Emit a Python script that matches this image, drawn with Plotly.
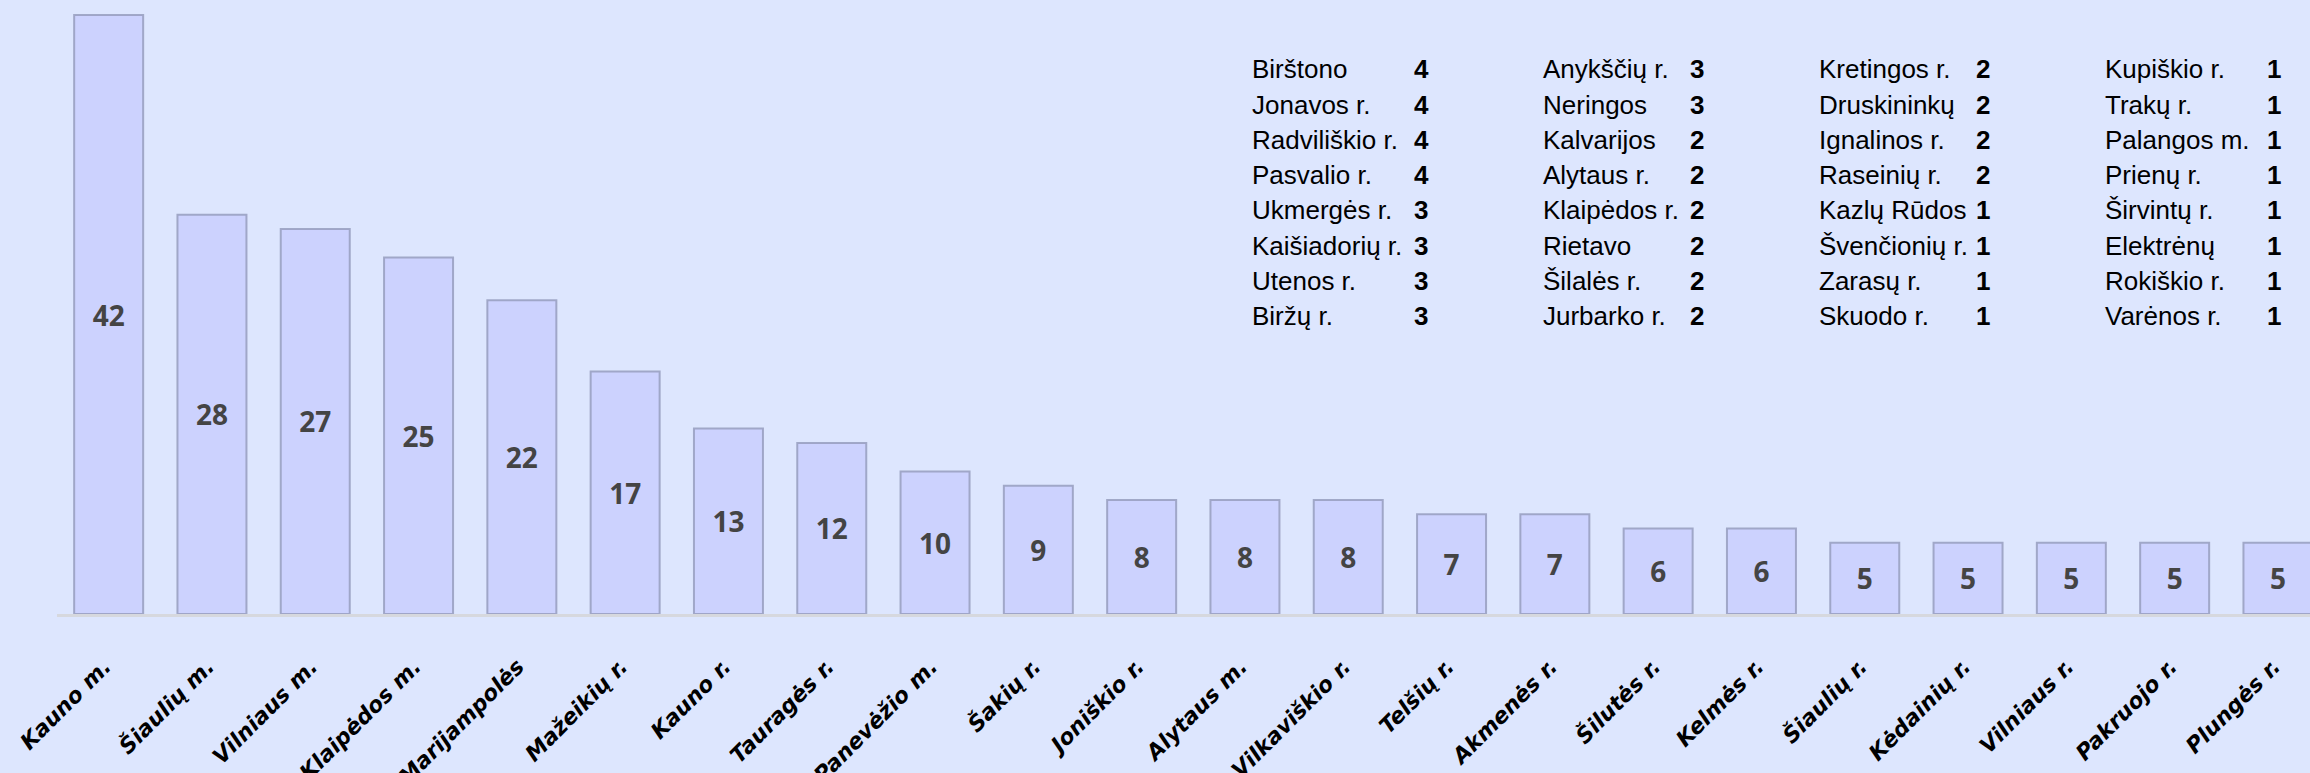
import plotly.graph_objects as go

categories = ["Kauno m.", "Šiaulių m.", "Vilniaus m.", "Klaipėdos m.", "Marijampolės",
              "Mažeikių r.", "Kauno r.", "Tauragės r.", "Panevėžio m.", "Šakių r.",
              "Joniškio r.", "Alytaus m.", "Vilkaviškio r.", "Telšių r.", "Akmenės r.",
              "Šilutės r.", "Kelmės r.", "Šiaulių r.", "Kėdainių r.", "Vilniaus r.",
              "Pakruojo r.", "Plungės r."]
values = [42, 28, 27, 25, 22, 17, 13, 12, 10, 9, 8, 8, 8, 7, 7, 6, 6, 5, 5, 5, 5, 5]

table_col1_names = ["Birštono", "Jonavos r.", "Radviliškio r.", "Pasvalio r.",
                    "Ukmergės r.", "Kaišiadorių r.", "Utenos r.", "Biržų r."]
table_col1_values = [4, 4, 4, 4, 3, 3, 3, 3]
table_col2_names = ["Anykščių r.", "Neringos", "Kalvarijos", "Alytaus r.",
                    "Klaipėdos r.", "Rietavo", "Šilalės r.", "Jurbarko r."]
table_col2_values = [3, 3, 2, 2, 2, 2, 2, 2]
table_col3_names = ["Kretingos r.", "Druskininkų", "Ignalinos r.", "Raseinių r.",
                    "Kazlų Rūdos", "Švenčionių r.", "Zarasų r.", "Skuodo r."]
table_col3_values = [2, 2, 2, 2, 1, 1, 1, 1]
table_col4_names = ["Kupiškio r.", "Trakų r.", "Palangos m.", "Prienų r.",
                    "Širvintų r.", "Elektrėnų", "Rokiškio r.", "Varėnos r."]
table_col4_values = [1, 1, 1, 1, 1, 1, 1, 1]

W, H = 2310, 773
ML, MB = 57, 159
PW, PH = W - ML, H - MB
slot = 103.3
BG = "#DDE6FE"

fig = go.Figure()
fig.add_trace(go.Bar(
    x=list(range(len(categories))), y=values,
    text=[str(v) for v in values],
    textposition="inside", insidetextanchor="middle",
    textfont=dict(family="Open Sans", size=28, color="#444444", weight="bold"),
    marker=dict(color="#CCD2FE", line=dict(color="rgba(150,158,190,0.85)", width=2)),
    hoverinfo="skip",
))

fig.update_layout(
    width=W, height=H,
    margin=dict(l=ML, r=0, t=0, b=MB, pad=0),
    paper_bgcolor=BG, plot_bgcolor=BG,
    bargap=0.332, showlegend=False,
)
fig.update_xaxes(
    range=[-0.5, -0.5 + PW / slot],
    tickmode="array", tickvals=list(range(len(categories))), ticktext=categories,
    tickangle=-45, ticklabelstandoff=28, ticklabelshift=-4,
    tickfont=dict(family="DejaVu Sans", size=22, color="#000000", weight="bold", style="italic"),
    showline=True, linecolor="#D6D8DE", linewidth=3,
    showgrid=False, zeroline=False, ticks="", automargin=False,
)
fig.update_yaxes(range=[0, PH / 14.26], visible=False, showgrid=False, zeroline=False)

cols = [
    (table_col1_names, table_col1_values, 1250, 1412),
    (table_col2_names, table_col2_values, 1541, 1688),
    (table_col3_names, table_col3_values, 1817, 1974),
    (table_col4_names, table_col4_values, 2103, 2265),
]
row0, rowstep = 69.5, 35.2
for names, vals, xn, xv in cols:
    for k, (n, v) in enumerate(zip(names, vals)):
        py = row0 + k * rowstep
        yp = 1 - py / PH
        fig.add_annotation(x=(xn - ML) / PW, y=yp, xref="paper", yref="paper",
                           text=n, showarrow=False, xanchor="left", yanchor="middle",
                           font=dict(family="Liberation Sans", size=26, color="#000000"))
        fig.add_annotation(x=(xv - ML) / PW, y=yp, xref="paper", yref="paper",
                           text=str(v), showarrow=False, xanchor="left", yanchor="middle",
                           font=dict(family="Liberation Sans", size=26, color="#000000", weight="bold"))

fig.write_html("out.html", config={"displayModeBar": False},
               post_script="document.body.style.margin='0';document.body.style.overflow='hidden';")
